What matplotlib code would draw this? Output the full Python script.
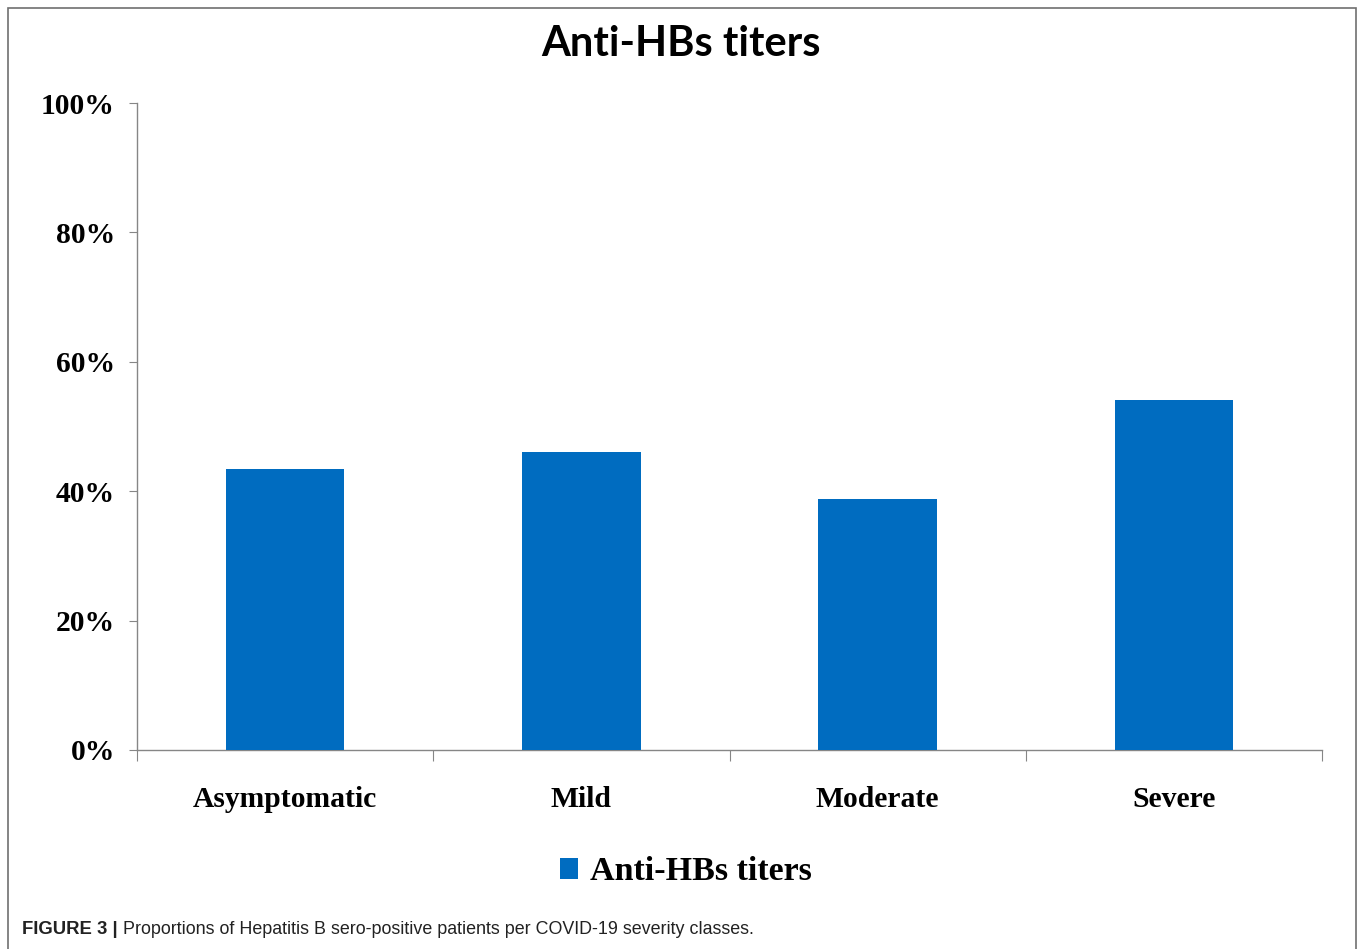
import matplotlib
matplotlib.use("Agg")
import matplotlib.pyplot as plt
from matplotlib.patches import Rectangle
from matplotlib.ticker import FuncFormatter

# datos
categorias = ["Asymptomatic", "Mild", "Moderate", "Severe"]
valores = [43.5, 46.0, 38.8, 54.1]
ticks_y = [0, 20, 40, 60, 80, 100]

azul = "#006CC0"
gris = "#868686"
W, H = 1358, 949

fig = plt.figure(figsize=(W / 100, H / 100), dpi=100)
ax = fig.add_axes([137 / W, 1 - 750 / H, (1322 - 137) / W, (750 - 103) / H])

x = list(range(len(categorias)))
ax.bar(x, valores, width=0.4, color=azul, label="Anti-HBs titers", zorder=3)

ax.set_xlim(-0.5, len(categorias) - 0.5)
ax.set_ylim(0, 100)
ax.set_yticks(ticks_y)
ax.yaxis.set_major_formatter(FuncFormatter(lambda v, p: f"{v:.0f}%"))

# ticks de x en los límites de categoría, etiquetas en el centro
ax.set_xticks([i - 0.5 for i in range(len(categorias) + 1)])
ax.set_xticklabels([])
ax.set_xticks(x, minor=True)
ax.set_xticklabels(categorias, minor=True)
ax.tick_params(axis="x", which="minor", length=0, pad=26)
ax.tick_params(axis="x", which="major", length=8, color=gris, direction="out")
ax.tick_params(axis="y", length=6, color=gris, direction="out", pad=10)

for lab in ax.get_xticklabels(minor=True) + ax.get_yticklabels():
    lab.set_fontfamily("Liberation Serif")
    lab.set_fontweight("bold")
    lab.set_fontsize(21.3)

for s in ["top", "right"]:
    ax.spines[s].set_visible(False)
for s in ["left", "bottom"]:
    ax.spines[s].set_color(gris)
    ax.spines[s].set_linewidth(1.0)

fig.text(681 / W, 1 - 44 / H, "Anti-HBs titers", ha="center", va="center",
         fontsize=30, fontweight="bold", family="Lato")

leg = fig.legend(loc="center", bbox_to_anchor=(686 / W, 1 - 872 / H), frameon=False,
                 prop={"family": "Liberation Serif", "weight": "bold", "size": 24.5},
                 handlelength=0.55, handleheight=0.55, handletextpad=0.35)

fig.text(22 / W, 1 - 930 / H, "FIGURE 3 |", ha="left", va="center",
         fontsize=13.3, fontweight="bold", family="Liberation Sans", color="#222222")
fig.text(123 / W, 1 - 930 / H,
         "Proportions of Hepatitis B sero-positive patients per COVID-19 severity classes.",
         ha="left", va="center", fontsize=12.9, family="Liberation Sans", color="#222222")

# marco exterior
fig.patches.append(Rectangle((8 / W, -0.01), (1356 - 8) / W, 1 - 8 / H + 0.01,
                             transform=fig.transFigure, fill=False,
                             edgecolor="#707070", linewidth=1.2))

fig.savefig("out.png", dpi=100)
